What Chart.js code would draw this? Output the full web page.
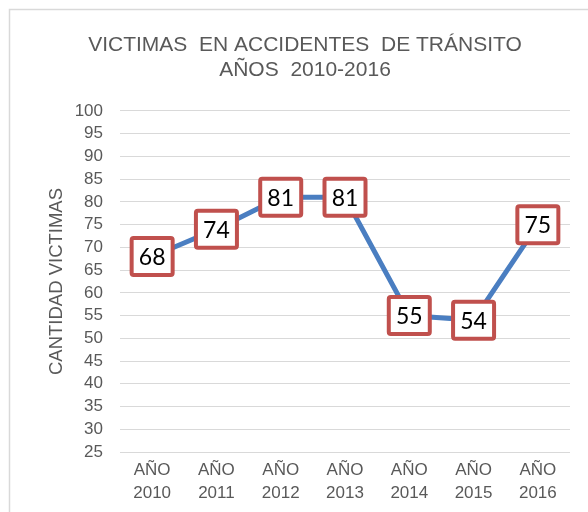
<!DOCTYPE html>
<html>
<head>
<meta charset="utf-8">
<script src="https://cdn.jsdelivr.net/npm/chart.js@4"></script>
<style>
  html, body { margin: 0; padding: 0; background: #fff; }
  #wrap { width: 588px; height: 512px; }
</style>
</head>
<body>
<div id="wrap"><canvas id="myChart" width="588" height="512"></canvas></div>
<script>
// data
var years = ['2010', '2011', '2012', '2013', '2014', '2015', '2016'];
var victims = [68, 74, 81, 81, 55, 54, 75];
var yTicksMin = 25;
var yTicksMax = 100;
var yStep = 5;

var FONT = "'Liberation Sans', Arial, sans-serif";

// grey frame around the chart like the office export
var framePlugin = {
    id: 'frame',
    beforeDraw: function (chart) {
        var c = chart.ctx;
        c.save();
        c.fillStyle = '#fff';
        c.fillRect(0, 0, chart.width, chart.height);
        c.strokeStyle = '#d9d9d9';
        c.lineWidth = 1.5;
        c.strokeRect(9.5, 9.5, chart.width + 20, chart.height + 20);
        c.restore();
    }
};

// value boxes with red border
var boxLabels = {
    id: 'boxLabels',
    afterDatasetsDraw: function (chart) {
        var c = chart.ctx;
        var meta = chart.getDatasetMeta(0);
        c.save();
        meta.data.forEach(function (pt, i) {
            var w = 41, h = 37;
            var x = pt.x - w / 2, y = pt.y - h / 2;
            c.beginPath();
            c.roundRect(x, y, w, h, 2);
            c.fillStyle = '#fff';
            c.fill();
            c.lineWidth = 4;
            c.strokeStyle = '#c0504d';
            c.stroke();
            c.fillStyle = '#000';
            c.font = '23px Lato, "Noto Sans", sans-serif';
            c.textAlign = 'center';
            c.textBaseline = 'middle';
            c.fillText(String(victims[i]), pt.x, pt.y + 1);
        });
        c.restore();
    }
};

var ctx = document.getElementById('myChart').getContext('2d');
var myChart = new Chart(ctx, {
    type: 'line',
    data: {
        labels: years.map(function (y) { return ['AÑO', y]; }),
        datasets: [
            {
                label: 'Victimas',
                data: victims,
                borderColor: '#4a7ec1',
                backgroundColor: 'transparent',
                borderWidth: 5,
                pointRadius: 0,
                tension: 0
            }
        ]
    },
    options: {
        responsive: false,
        animation: false,
        layout: {
            padding: { left: 40, right: 18, top: 0, bottom: 0 }
        },
        plugins: {
            legend: { display: false },
            tooltip: { enabled: false },
            title: {
                display: true,
                text: ['VICTIMAS  EN ACCIDENTES  DE TRÁNSITO', 'AÑOS  2010-2016'],
                color: '#595959',
                font: { family: FONT, size: 21, weight: 'normal', lineHeight: 1.19 },
                padding: { top: 33, bottom: 28 }
            }
        },
        scales: {
            x: {
                offset: true,
                grid: { display: false, drawTicks: false },
                border: { display: false },
                ticks: {
                    color: '#595959',
                    font: { family: FONT, size: 17, lineHeight: 1.35 },
                    padding: 7,
                    maxRotation: 0,
                    autoSkip: false
                },
                afterFit: function (s) { s.height = 60; }
            },
            y: {
                min: yTicksMin,
                max: yTicksMax,
                grid: { color: '#d9d9d9', lineWidth: 1, drawTicks: false },
                border: { display: false },
                ticks: {
                    stepSize: yStep,
                    autoSkip: false,
                    color: '#595959',
                    font: { family: FONT, size: 17 },
                    padding: 17
                },
                title: {
                    display: true,
                    text: 'CANTIDAD VICTIMAS',
                    color: '#595959',
                    font: { family: FONT, size: 18.5 },
                    padding: { top: 6, bottom: 0 }
                },
                afterFit: function (s) { s.width = 80; }
            }
        }
    },
    plugins: [framePlugin, boxLabels]
});
</script>
</body>
</html>
